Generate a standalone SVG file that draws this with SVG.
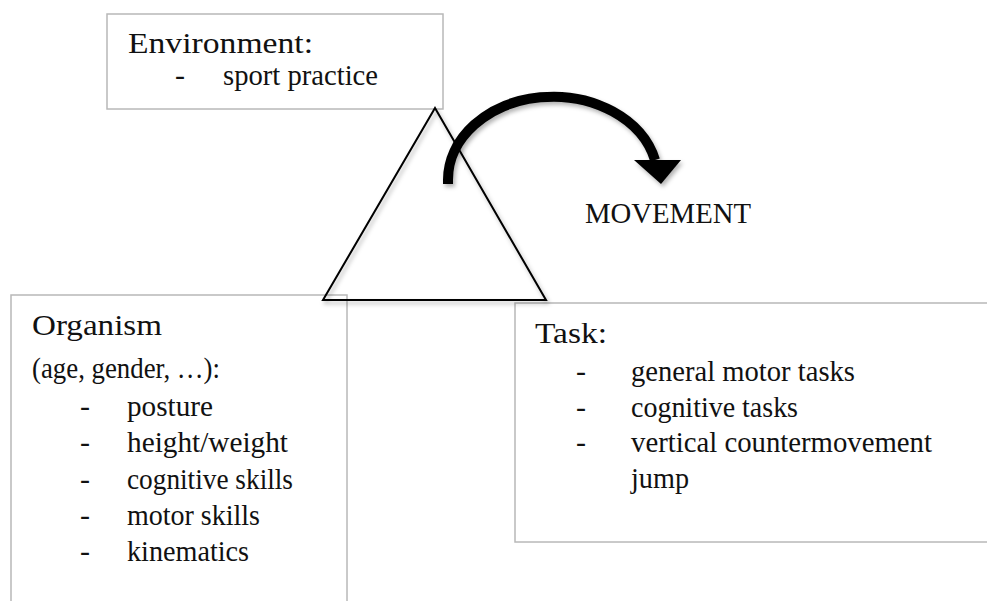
<svg xmlns="http://www.w3.org/2000/svg" width="987" height="601" viewBox="0 0 987 601">
  <defs>
    <filter id="soft" x="-20%" y="-20%" width="140%" height="140%">
      <feDropShadow dx="2" dy="3" stdDeviation="2" flood-color="#000" flood-opacity="0.3"/>
    </filter>
  </defs>
  <style>
    .box { fill: #fff; stroke: #b8b8b8; stroke-width: 1.5; }
    text { font-family: "Liberation Serif", "DejaVu Serif", serif; font-size: 30px; fill: #111; }
  </style>

  <!-- Environment -->
  <g id="environment">
    <rect class="box" x="107" y="14" width="336" height="95"/>
    <text x="128" y="53" textLength="185" lengthAdjust="spacingAndGlyphs">Environment:</text>
    <text x="175" y="85">-</text>
    <text x="223" y="85" textLength="155" lengthAdjust="spacingAndGlyphs">sport practice</text>
  </g>

  <!-- Organism -->
  <g id="organism">
    <rect class="box" x="11" y="295" width="336" height="330"/>
    <text x="32" y="335" textLength="130" lengthAdjust="spacingAndGlyphs">Organism</text>
    <text x="32" y="378" textLength="188" lengthAdjust="spacingAndGlyphs">(age, gender, …):</text>
    <text x="80" y="416">-</text>
    <text x="127" y="416" textLength="86" lengthAdjust="spacingAndGlyphs">posture</text>
    <text x="80" y="452">-</text>
    <text x="127" y="452" textLength="161" lengthAdjust="spacingAndGlyphs">height/weight</text>
    <text x="80" y="489">-</text>
    <text x="127" y="489" textLength="166" lengthAdjust="spacingAndGlyphs">cognitive skills</text>
    <text x="80" y="525">-</text>
    <text x="127" y="525" textLength="133" lengthAdjust="spacingAndGlyphs">motor skills</text>
    <text x="80" y="561">-</text>
    <text x="127" y="561" textLength="122" lengthAdjust="spacingAndGlyphs">kinematics</text>
  </g>

  <!-- Task -->
  <g id="task">
    <rect class="box" x="515" y="303" width="490" height="239"/>
    <text x="535" y="343" textLength="72" lengthAdjust="spacingAndGlyphs">Task:</text>
    <text x="576" y="381">-</text>
    <text x="631" y="381" textLength="224" lengthAdjust="spacingAndGlyphs">general motor tasks</text>
    <text x="576" y="417">-</text>
    <text x="631" y="417" textLength="167" lengthAdjust="spacingAndGlyphs">cognitive tasks</text>
    <text x="576" y="452">-</text>
    <text x="631" y="452" textLength="301" lengthAdjust="spacingAndGlyphs">vertical countermovement</text>
    <text x="631" y="488" textLength="58" lengthAdjust="spacingAndGlyphs">jump</text>
  </g>

  <!-- Triangle linking the three constraints -->
  <g id="triangle">
    <polygon points="435,108 546,300 323,300" fill="none" stroke="#000" stroke-width="2" stroke-linejoin="miter" filter="url(#soft)"/>
  </g>

  <!-- Curved arrow towards movement -->
  <g id="connectors" filter="url(#soft)">
    <path d="M448,184 L448,180 A105,83 0 0 1 655,160" fill="none" stroke="#000" stroke-width="10"/>
    <polygon points="634,160 681,160 661,184" fill="#000"/>
  </g>

  <g id="movement">
    <text x="585" y="223" textLength="166" lengthAdjust="spacingAndGlyphs">MOVEMENT</text>
  </g>
</svg>
